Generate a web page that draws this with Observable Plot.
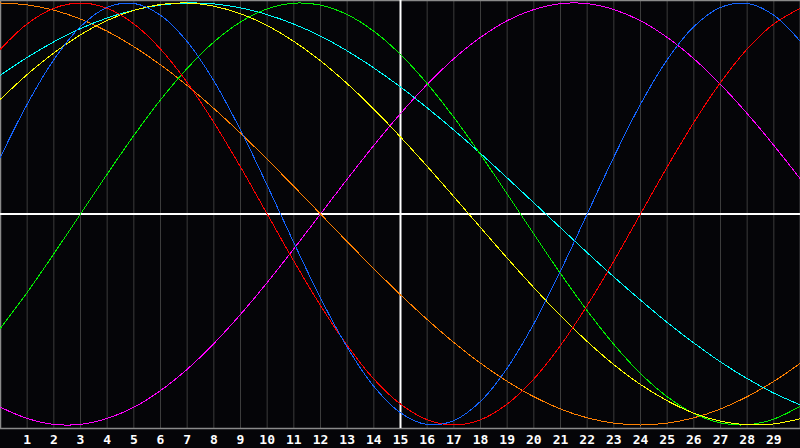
<!DOCTYPE html>
<html>
<head>
<meta charset="utf-8">
<script src="https://cdn.jsdelivr.net/npm/d3@7"></script>
<script src="https://cdn.jsdelivr.net/npm/@observablehq/plot@0.6"></script>
<style>
  html, body { margin: 0; padding: 0; background: #050508; }
  #chart svg { display: block; }
</style>
</head>
<body>
<div id="chart"></div>
<script>
// day positions (x)
const days = d3.range(0, 31);
// tick labels along the bottom
const dayLabels = d3.range(1, 30);

// series values, one value per day 0..30
const red = [0.782,0.901,0.975,1,0.975,0.901,0.782,0.623,0.434,0.223,0,-0.223,-0.434,-0.623,-0.782,-0.901,-0.975,-1,-0.975,-0.901,-0.782,-0.623,-0.434,-0.223,0,0.223,0.434,0.623,0.782,0.901,0.975];
const blue = [0.27,0.52,0.731,0.888,0.979,0.998,0.942,0.817,0.631,0.398,0.136,-0.136,-0.398,-0.631,-0.817,-0.942,-0.998,-0.979,-0.888,-0.731,-0.52,-0.27,0,0.27,0.52,0.731,0.888,0.979,0.998,0.942,0.817];
const orange = [1,0.991,0.966,0.924,0.866,0.793,0.707,0.609,0.5,0.383,0.259,0.131,0,-0.131,-0.259,-0.383,-0.5,-0.609,-0.707,-0.793,-0.866,-0.924,-0.966,-0.991,-1,-0.991,-0.966,-0.924,-0.866,-0.793,-0.707];
const magenta = [-0.916,-0.969,-0.997,-0.997,-0.969,-0.916,-0.837,-0.736,-0.614,-0.476,-0.325,-0.165,0,0.165,0.325,0.476,0.614,0.736,0.837,0.916,0.969,0.997,0.997,0.969,0.916,0.837,0.736,0.614,0.476,0.325,0.165];
const green = [-0.541,-0.372,-0.189,0,0.189,0.372,0.541,0.69,0.815,0.91,0.972,0.999,0.99,0.945,0.866,0.756,0.618,0.458,0.282,0.095,-0.095,-0.282,-0.458,-0.618,-0.756,-0.866,-0.945,-0.99,-0.999,-0.972,-0.91];
const yellow = [0.544,0.661,0.763,0.849,0.917,0.965,0.993,1,0.985,0.949,0.893,0.818,0.726,0.618,0.497,0.365,0.226,0.082,-0.064,-0.209,-0.349,-0.482,-0.604,-0.714,-0.808,-0.885,-0.944,-0.982,-0.999,-0.995,-0.97];
const cyan = [0.658,0.742,0.816,0.879,0.929,0.966,0.99,1,0.996,0.977,0.945,0.9,0.843,0.773,0.692,0.602,0.503,0.398,0.287,0.171,0.053,-0.065,-0.183,-0.298,-0.408,-0.514,-0.611,-0.701,-0.78,-0.849,-0.905];

const seriesNames = ["magenta","orange","cyan","green","yellow","red","blue"];
const seriesValues = {magenta, orange, cyan, green, yellow, red, blue};
const seriesColors = {
  magenta: "#ff00ff", orange: "#ff8000", cyan: "#00ffff", green: "#00f000",
  yellow: "#ffff00", red: "#ff0000", blue: "#1464ff"
};

const rows = seriesNames.flatMap(name =>
  days.map((d, i) => ({series: name, day: d, value: seriesValues[name][i]}))
);

const chart = Plot.plot({
  width: 800,
  height: 448,
  marginTop: 0,
  marginRight: 0,
  marginBottom: 20,
  marginLeft: 0,
  style: {background: "#050508", color: "#ffffff", overflow: "visible"},
  x: {domain: [0, 30], range: [0, 800], axis: null},
  y: {domain: [-1, 1], range: [424.5, 2.5], axis: null},
  marks: [
    Plot.ruleX(dayLabels, {x: d => d, y1: -1.02, y2: 1.02, stroke: "#3c3c3c", strokeWidth: 1}),
    Plot.frame({stroke: "#8a8a8a", strokeWidth: 1.5}),
    Plot.ruleY([0], {stroke: "#ffffff", strokeWidth: 2}),
    Plot.ruleX([15], {stroke: "#ffffff", strokeWidth: 2}),
    ...seriesNames.map(name =>
      Plot.line(rows.filter(r => r.series === name), {
        x: "day", y: "value", stroke: seriesColors[name], strokeWidth: 1,
        curve: "catmull-rom", shapeRendering: "crispEdges"
      })
    ),
    Plot.axisX(dayLabels, {
      tickSize: 0, tickPadding: 6, fontSize: 13, fontWeight: "bold",
      fontFamily: "DejaVu Sans Mono", fill: "#ffffff", label: null,
      tickFormat: d => String(d)
    })
  ]
});
document.getElementById("chart").append(chart);
</script>
</body>
</html>
